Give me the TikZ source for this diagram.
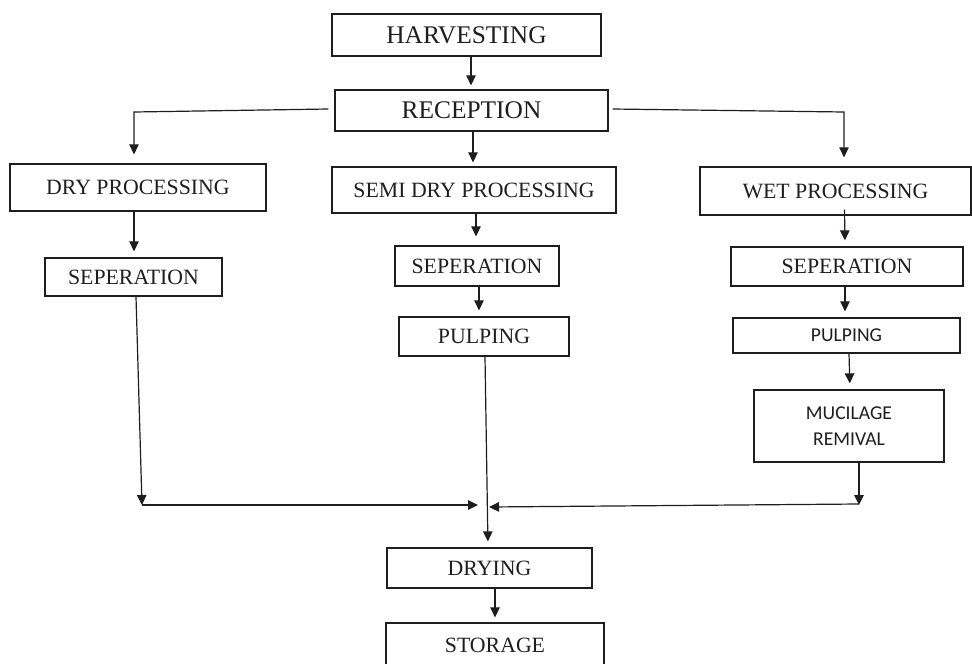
\documentclass[tikz,border=0pt]{standalone}
\usepackage{fontspec}
\setmainfont{Liberation Serif}
\newfontfamily\calibri{Carlito}
\usetikzlibrary{arrows.meta}
\definecolor{ink}{RGB}{30,30,30}
\tikzset{
  box/.style={draw=ink, line width=1.3pt, inner sep=0pt, align=center, text=ink},
  big/.style={font=\fontsize{25.4}{30}\selectfont},
  mid/.style={font=\fontsize{21.8}{26}\selectfont},
  sans/.style={font=\calibri\fontsize{19.6}{25.7}\selectfont},
  arr/.style={draw=ink, line width=1.2pt, -{Triangle[length=10pt,width=9.5pt]}},
  ln/.style={draw=ink, line width=1.2pt}
}
\begin{document}
\begin{tikzpicture}[x=1pt,y=-1pt]
\useasboundingbox (0,0) rectangle (972,664);
\clip (0,0) rectangle (972,664);
\fill[white] (0,0) rectangle (972,664);

\node[box,big,minimum width=269pt,minimum height=42pt] (harv) at (466.5,35) {HARVESTING};
\node[box,big,minimum width=273pt,minimum height=41pt] (rec) at (471.5,110.5) {RECEPTION};
\node[box,mid,minimum width=256pt,minimum height=47pt] (dry) at (138,187.5) {DRY PROCESSING};
\node[box,mid,minimum width=284pt,minimum height=46pt] (semi) at (474,190) {SEMI DRY PROCESSING};
\node[box,mid,minimum width=271pt,minimum height=48pt] (wet) at (835.5,191) {WET PROCESSING};
\node[box,mid,minimum width=177pt,minimum height=38pt] (sepA) at (133.5,277) {SEPERATION};
\node[box,mid,minimum width=164pt,minimum height=40pt] (sepB) at (477,266) {SEPERATION};
\node[box,mid,minimum width=232pt,minimum height=39pt] (sepC) at (847,266.5) {SEPERATION};
\node[box,mid,minimum width=170pt,minimum height=39pt] (pulpB) at (484,336.5) {PULPING};
\node[box,sans,minimum width=227pt,minimum height=35pt] (pulpC) at (846.5,335.5) {PULPING};
\node[box,sans,minimum width=190pt,minimum height=72pt] (muc) at (849,426) {MUCILAGE\\REMIVAL};
\node[box,mid,minimum width=205pt,minimum height=40pt] (drying) at (489.5,568) {DRYING};
\node[box,mid,minimum width=218pt,minimum height=44pt] (stor) at (495,645) {STORAGE};

\coordinate (cL) at (134,112);
\coordinate (cR) at (844,112);
\coordinate (mA) at (142,505);
\coordinate (mB) at (478,505);
\coordinate (mC) at (859,505);
\coordinate (mD) at (489,507);

\draw[arr,shorten >=4pt] ([xshift=4.5pt]harv.south) -- ([xshift=-0.5pt]rec.north);
\draw[arr,shorten >=9pt] ([xshift=-6pt,yshift=1.5pt]rec.west) -- (cL) -- ([xshift=-4pt]dry.north);
\draw[arr,shorten >=4pt] ([xshift=1.5pt]rec.south) -- ([xshift=-1pt]semi.north);
\draw[arr,shorten >=9pt] ([xshift=4pt,yshift=1.5pt]rec.east) -- (cR) -- ([xshift=8.5pt]wet.north);
\draw[arr,shorten >=6pt] ([xshift=-4pt]dry.south) -- ([xshift=0.5pt]sepA.north);
\draw[arr,shorten >=9pt] ([xshift=2pt]semi.south) -- ([xshift=-1pt]sepB.north);
\draw[arr,shorten >=6pt] ([xshift=2pt]sepB.south) -- ([xshift=-5pt]pulpB.north);
\draw[arr,shorten >=6pt] ([xshift=9pt,yshift=6pt]wet.south) -- ([xshift=-2pt]sepC.north);
\draw[arr,shorten >=6pt] ([xshift=-2pt]sepC.south) -- ([xshift=-1.5pt]pulpC.north);
\draw[arr,shorten >=6pt] ([xshift=2.5pt]pulpC.south) -- ([xshift=1pt]muc.north);
\draw[arr] ([xshift=2.5pt]sepA.south) -- (mA);
\draw[arr] (mA) -- (mB);
\draw[arr] ([xshift=10pt]muc.south) -- (mC);
\draw[arr] ([yshift=1pt]mC) -- (mD);
\draw[arr,shorten >=6pt] ([xshift=1pt]pulpB.south) -- ([xshift=-1.5pt]drying.north);
\draw[arr,shorten >=5pt] ([xshift=5.5pt]drying.south) -- (stor.north);
\end{tikzpicture}
\end{document}
